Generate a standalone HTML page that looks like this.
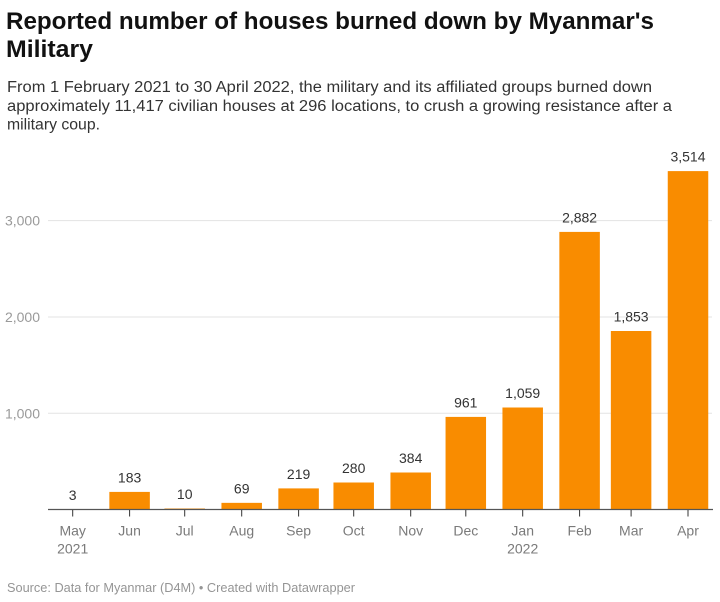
<!DOCTYPE html>
<html>
<head>
<meta charset="utf-8">
<style>
  html, body { margin: 0; padding: 0; background: #fff; }
  svg { display: block; }
  text { font-family: "Liberation Sans", "DejaVu Sans", sans-serif; }
</style>
</head>
<body>
<svg width="720" height="602" viewBox="0 0 720 602" xmlns="http://www.w3.org/2000/svg">
  <rect x="0" y="0" width="720" height="602" fill="#fff"/>

  <!-- Title -->
  <text x="6" y="29" font-size="24" font-weight="bold" fill="#111" textLength="648" lengthAdjust="spacingAndGlyphs">Reported number of houses burned down by Myanmar's</text>
  <text x="6" y="57" font-size="24" font-weight="bold" fill="#111" textLength="87" lengthAdjust="spacingAndGlyphs">Military</text>

  <!-- Subtitle -->
  <text x="7" y="92" font-size="15.5" fill="#333" textLength="645" lengthAdjust="spacingAndGlyphs">From 1 February 2021 to 30 April 2022, the military and its affiliated groups burned down</text>
  <text x="7" y="111" font-size="15.5" fill="#333" textLength="665" lengthAdjust="spacingAndGlyphs">approximately 11,417 civilian houses at 296 locations, to crush a growing resistance after a</text>
  <text x="7" y="129.5" font-size="15.5" fill="#333" textLength="93" lengthAdjust="spacingAndGlyphs">military coup.</text>

  <!-- Gridlines -->
  <g stroke="#e3e3e3" stroke-width="1">
    <line x1="48" y1="220.6" x2="712" y2="220.6"/>
    <line x1="48" y1="317" x2="712" y2="317"/>
    <line x1="48" y1="413.3" x2="712" y2="413.3"/>
  </g>

  <!-- Y labels -->
  <g font-size="14" fill="#9a9a9a" text-anchor="end">
    <text x="40" y="225.6">3,000</text>
    <text x="40" y="322">2,000</text>
    <text x="40" y="418.3">1,000</text>
  </g>

  <!-- Bars -->
  <g fill="#f98c00">
    <rect x="52.45" y="509.2" width="40.5" height="0.3"/>
    <rect x="109.35" y="491.9" width="40.5" height="17.6"/>
    <rect x="164.45" y="508.5" width="40.5" height="1.0"/>
    <rect x="221.45" y="502.85" width="40.5" height="6.65"/>
    <rect x="278.35" y="488.4" width="40.5" height="21.1"/>
    <rect x="333.45" y="482.5" width="40.5" height="27.0"/>
    <rect x="390.45" y="472.5" width="40.5" height="37.0"/>
    <rect x="445.55" y="416.9" width="40.5" height="92.6"/>
    <rect x="502.45" y="407.5" width="40.5" height="102.0"/>
    <rect x="559.35" y="231.9" width="40.5" height="277.6"/>
    <rect x="610.85" y="331.0" width="40.5" height="178.5"/>
    <rect x="667.75" y="171.1" width="40.5" height="338.4"/>
  </g>

  <!-- Value labels -->
  <g font-size="14" fill="#333" text-anchor="middle">
    <text x="72.7" y="500">3</text>
    <text x="129.6" y="482.5">183</text>
    <text x="184.7" y="499">10</text>
    <text x="241.7" y="493.4">69</text>
    <text x="298.6" y="479">219</text>
    <text x="353.7" y="473">280</text>
    <text x="410.7" y="463">384</text>
    <text x="465.8" y="407.4">961</text>
    <text x="522.7" y="398">1,059</text>
    <text x="579.6" y="222.4">2,882</text>
    <text x="631.1" y="321.5">1,853</text>
    <text x="688" y="161.6">3,514</text>
  </g>

  <!-- Baseline axis -->
  <line x1="48" y1="509.5" x2="713" y2="509.5" stroke="#555" stroke-width="1.2"/>

  <!-- Ticks -->
  <g stroke="#333" stroke-width="1">
    <line x1="72.7" y1="510" x2="72.7" y2="516.5"/>
    <line x1="129.6" y1="510" x2="129.6" y2="516.5"/>
    <line x1="184.7" y1="510" x2="184.7" y2="516.5"/>
    <line x1="241.7" y1="510" x2="241.7" y2="516.5"/>
    <line x1="298.6" y1="510" x2="298.6" y2="516.5"/>
    <line x1="353.7" y1="510" x2="353.7" y2="516.5"/>
    <line x1="410.7" y1="510" x2="410.7" y2="516.5"/>
    <line x1="465.8" y1="510" x2="465.8" y2="516.5"/>
    <line x1="522.7" y1="510" x2="522.7" y2="516.5"/>
    <line x1="579.6" y1="510" x2="579.6" y2="516.5"/>
    <line x1="631.1" y1="510" x2="631.1" y2="516.5"/>
    <line x1="688" y1="510" x2="688" y2="516.5"/>
  </g>

  <!-- X labels -->
  <g font-size="14" fill="#7a7a7a" text-anchor="middle">
    <text x="72.7" y="535.5">May</text>
    <text x="72.7" y="553.5">2021</text>
    <text x="129.6" y="535.5">Jun</text>
    <text x="184.7" y="535.5">Jul</text>
    <text x="241.7" y="535.5">Aug</text>
    <text x="298.6" y="535.5">Sep</text>
    <text x="353.7" y="535.5">Oct</text>
    <text x="410.7" y="535.5">Nov</text>
    <text x="465.8" y="535.5">Dec</text>
    <text x="522.7" y="535.5">Jan</text>
    <text x="522.7" y="553.5">2022</text>
    <text x="579.6" y="535.5">Feb</text>
    <text x="631.1" y="535.5">Mar</text>
    <text x="688" y="535.5">Apr</text>
  </g>

  <!-- Footer -->
  <text x="7" y="592" font-size="13" fill="#959595" textLength="348" lengthAdjust="spacingAndGlyphs">Source: Data for Myanmar (D4M) • Created with Datawrapper</text>
</svg>
</body>
</html>
